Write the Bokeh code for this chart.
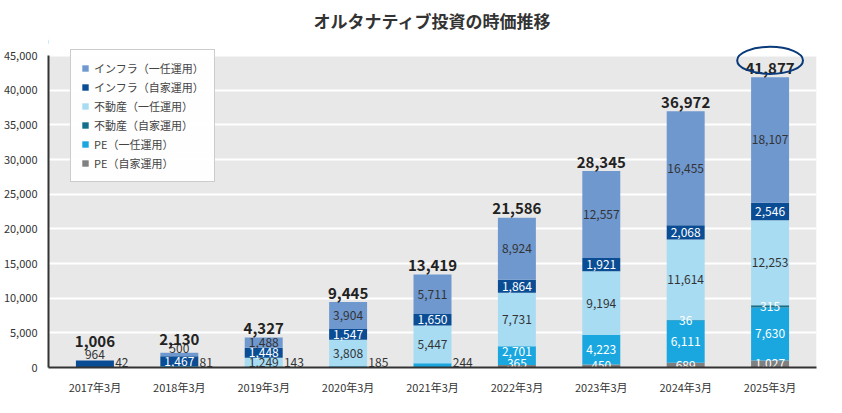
import numpy as np
from bokeh.plotting import figure
from bokeh.models import ColumnDataSource, NumeralTickFormatter, FixedTicker, Legend, LegendItem, Label
from bokeh.embed import file_html
from bokeh.resources import INLINE
from bokeh.core.properties import value

years = ["2017年3月","2018年3月","2019年3月","2020年3月","2021年3月","2022年3月","2023年3月","2024年3月","2025年3月"]
pe_self   = [0, 82, 0, 0, 0, 365, 450, 689, 1027]
pe_disc   = [42, 81, 143, 185, 611, 2701, 4223, 6111, 7630]
re_self   = [0, 0, 0, 0, 0, 0, 0, 36, 315]
re_disc   = [0, 0, 1249, 3808, 5447, 7731, 9194, 11614, 12253]
inf_self  = [964, 1467, 1448, 1547, 1650, 1864, 1921, 2068, 2546]
inf_disc  = [0, 500, 1488, 3904, 5711, 8924, 12557, 16455, 18107]
totals    = [1006, 2130, 4327, 9445, 13419, 21586, 28345, 36972, 41877]
pe_disc_lbl = [42, 81, 143, 185, 244, 2701, 4223, 6111, 7630]

names = ["PE（自家運用）","PE（一任運用）","不動産（自家運用）","不動産（一任運用）","インフラ（自家運用）","インフラ（一任運用）"]
series = [pe_self, pe_disc, re_self, re_disc, inf_self, inf_disc]
colors = ["#808080","#1aa7e0","#136f8a","#a8dcf3","#0a4d94","#6f98cf"]
txtcol = ["white","white","white","#333333","white","#333333"]

FONT = "Noto Sans CJK JP"
p = figure(width=826, height=397, output_backend="svg", toolbar_location=None,
           x_range=(-0.55, 8.55), y_range=(0, 47600),
           title="オルタナティブ投資の時価推移", min_border_left=10, min_border_right=10,
           min_border_top=20)
p.title.align = "center"; p.title.text_font = FONT; p.title.text_font_size = "17px"
p.title.text_color = "#333333"; p.title.text_font_style = "bold"
p.background_fill_color = "white"
p.outline_line_color = None
p.quad(left=[-0.55], right=[8.55], bottom=[0], top=[45000], fill_color="#e8e8e8", line_color=None, level="underlay")
p.ygrid.grid_line_color = "white"; p.ygrid.grid_line_width = 2
p.ygrid.level = "underlay"
p.xgrid.grid_line_color = None
p.yaxis.formatter = NumeralTickFormatter(format="0,0")
p.yaxis.ticker = FixedTicker(ticks=list(range(0, 45001, 5000)))
p.yaxis.bounds = (0, 45000)
p.xaxis.ticker = FixedTicker(ticks=list(range(9)))
p.xaxis.major_label_overrides = {i: y for i, y in enumerate(years)}
for ax in (p.xaxis, p.yaxis):
    ax.major_label_text_font = FONT
    ax.major_label_text_font_size = "11px"
    ax.major_label_text_color = "#333333"
    ax.major_tick_line_color = None
    ax.minor_tick_line_color = None
    ax.axis_line_color = "#333333"
    ax.axis_line_width = 2

x = np.arange(9)
bottom = np.zeros(9)
items = []
lx, ly, lt, lc = [], [], [], []
ox, oy, ot = [], [], []
for k, (s, c) in enumerate(zip(series, colors)):
    s = np.array(s, dtype=float)
    src = ColumnDataSource(dict(x=x, top=bottom + s, bottom=bottom))
    r = p.vbar(x="x", width=0.45, top="top", bottom="bottom", source=src, fill_color=c, line_color=None)
    items.append((names[k], r))
    for i in range(9):
        v = s[i]
        if v <= 0:
            continue
        lbl = pe_disc_lbl[i] if k == 1 else int(v)
        if k == 0 and i == 1:
            continue  # drawn below axis
        if k == 1 and lbl < 300:
            ox.append(i + 0.24); oy.append(0); ot.append(f"{lbl:,}")
            continue
        lx.append(i); ly.append(bottom[i] + v / 2); lt.append(f"{lbl:,}"); lc.append(txtcol[k])
    bottom = bottom + s

tot_y = [t + 500 for t in totals]
for j in range(len(lt)):
    if lt[j] == "964":
        ly[j] = 1850; lc[j] = "#333333"
    if lt[j] == "611":
        lt[j] = "367"; ly[j] = 700; lc[j] = "#333333"
    if lt[j] == "500":
        ly[j] = 2700; lc[j] = "#333333"
    if lt[j] == "365":
        ly[j] = 600
    if lt[j] == "2,701":
        ly[j] = 2350
tot_y[0] = 2900
tot_y[1] = 3300
p.text(x=lx, y=ly, text=lt, text_color=lc, text_align="center", text_baseline="middle",
       text_font=value(FONT), text_font_size="12px")
p.text(x=ox, y=oy, text=ot, text_color="#333333", text_align="left",
       text_baseline="bottom", text_font=value(FONT), text_font_size="12px", y_offset=-1)
p.add_layout(Label(x=1.24, y=0, text="82", text_font=FONT, text_font_size="12px",
                   text_color="#333333", y_offset=-14))
p.text(x=x, y=tot_y, text=[f"{t:,}" for t in totals], text_color="#222222",
       text_align="center", text_baseline="bottom", text_font=value(FONT), text_font_size="15px",
       text_font_style="bold")
p.ellipse(x=[8], y=[44300], width=0.78, height=3900, fill_color=None, line_color="#0a3a7a", line_width=2)
p.add_layout(Label(x=-0.55, y=45000, text="（億円）", text_font=FONT, text_font_size="9px",
                   text_color="#333333", x_offset=-30, y_offset=8))

legend = Legend(items=[LegendItem(label=n, renderers=[r]) for n, r in reversed(items)],
                location=(22, 185), label_text_font=FONT, label_text_font_size="11px",
                glyph_width=8, glyph_height=8, spacing=3, padding=10,
                border_line_color="#999999", background_fill_color="white")
p.add_layout(legend, "center")
open("out.html", "w").write(file_html(p, INLINE))
